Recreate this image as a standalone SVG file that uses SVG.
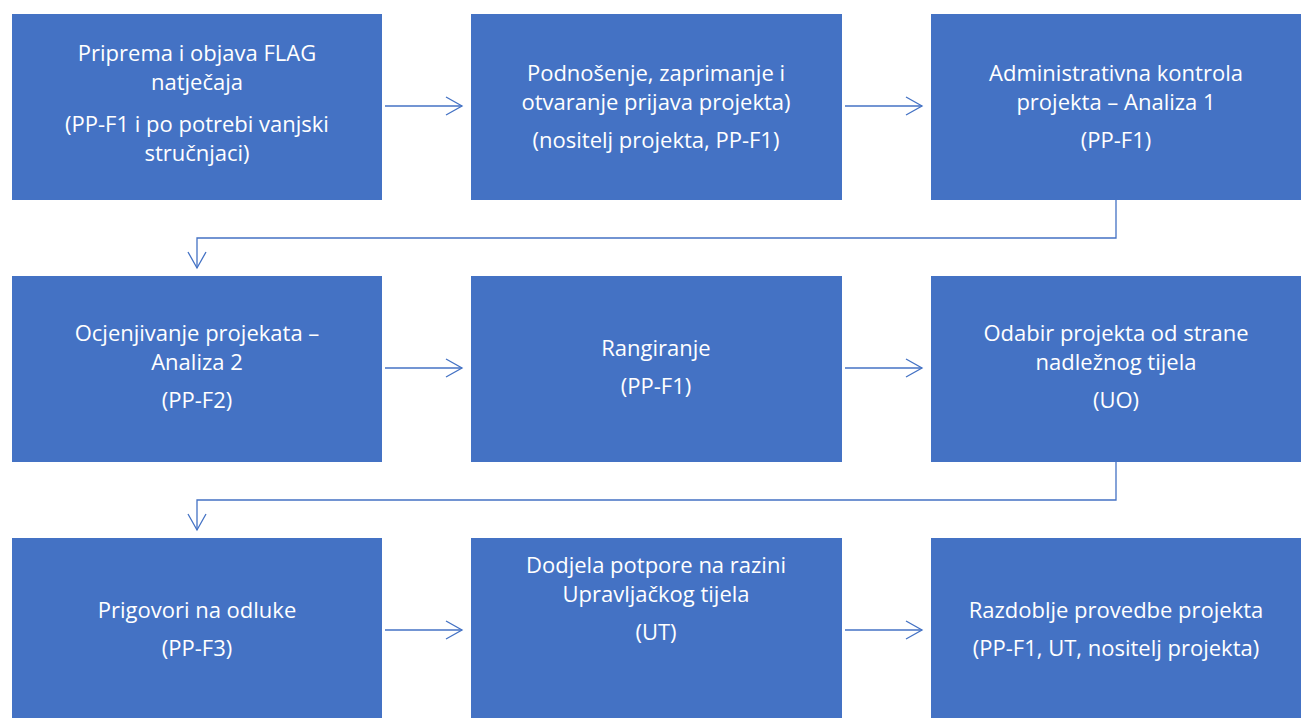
<svg xmlns="http://www.w3.org/2000/svg" width="1306" height="718" viewBox="0 0 1306 718">
<style>
.box{fill:#4472C4;}
.t{fill:#fff;font-family:"Open Sans","Liberation Sans",sans-serif;font-size:22px;text-anchor:middle;}
.c{fill:none;stroke:#4472C4;stroke-width:1.3;}
</style>
<defs>
<marker id="ah" markerWidth="20" markerHeight="20" refX="17" refY="10" orient="auto" markerUnits="userSpaceOnUse">
<path d="M1,1 L17,10 L1,19" fill="none" stroke="#4472C4" stroke-width="1.3"/>
</marker>
</defs>
<rect width="1306" height="718" fill="#fff"/>
<g id="connectors">
<path class="c" d="M385,106 H462" marker-end="url(#ah)"/>
<path class="c" d="M845,106 H922" marker-end="url(#ah)"/>
<path class="c" d="M1116,200 V238 H197 V268" marker-end="url(#ah)"/>
<path class="c" d="M385,368 H462" marker-end="url(#ah)"/>
<path class="c" d="M845,368 H922" marker-end="url(#ah)"/>
<path class="c" d="M1116,462 V500 H197 V530" marker-end="url(#ah)"/>
<path class="c" d="M385,630 H462" marker-end="url(#ah)"/>
<path class="c" d="M845,630 H922" marker-end="url(#ah)"/>
</g>
<g id="n1"><rect class="box" x="12" y="14" width="370" height="186"/>
<text class="t" x="197" y="61">Priprema i objava FLAG</text>
<text class="t" x="197" y="90">natječaja</text>
<text class="t" x="197" y="132">(PP-F1 i po potrebi vanjski</text>
<text class="t" x="197" y="161">stručnjaci)</text></g>
<g id="n2"><rect class="box" x="471" y="14" width="371" height="186"/>
<text class="t" x="656" y="81">Podnošenje, zaprimanje i</text>
<text class="t" x="656" y="110">otvaranje prijava projekta)</text>
<text class="t" x="656" y="148">(nositelj projekta, PP-F1)</text></g>
<g id="n3"><rect class="box" x="931" y="14" width="370" height="186"/>
<text class="t" x="1116" y="81">Administrativna kontrola</text>
<text class="t" x="1116" y="110">projekta – Analiza 1</text>
<text class="t" x="1116" y="148">(PP-F1)</text></g>
<g id="n4"><rect class="box" x="12" y="276" width="370" height="186"/>
<text class="t" x="197" y="341">Ocjenjivanje projekata –</text>
<text class="t" x="197" y="370">Analiza 2</text>
<text class="t" x="197" y="408">(PP-F2)</text></g>
<g id="n5"><rect class="box" x="471" y="276" width="371" height="186"/>
<text class="t" x="656" y="356">Rangiranje</text>
<text class="t" x="656" y="394">(PP-F1)</text></g>
<g id="n6"><rect class="box" x="931" y="276" width="370" height="186"/>
<text class="t" x="1116" y="341">Odabir projekta od strane</text>
<text class="t" x="1116" y="370">nadležnog tijela</text>
<text class="t" x="1116" y="408">(UO)</text></g>
<g id="n7"><rect class="box" x="12" y="538" width="370" height="186"/>
<text class="t" x="197" y="618">Prigovori na odluke</text>
<text class="t" x="197" y="656">(PP-F3)</text></g>
<g id="n8"><rect class="box" x="471" y="538" width="371" height="186"/>
<text class="t" x="656" y="573">Dodjela potpore na razini</text>
<text class="t" x="656" y="602">Upravljačkog tijela</text>
<text class="t" x="656" y="640">(UT)</text></g>
<g id="n9"><rect class="box" x="931" y="538" width="370" height="186"/>
<text class="t" x="1116" y="618">Razdoblje provedbe projekta</text>
<text class="t" x="1116" y="656">(PP-F1, UT, nositelj projekta)</text></g>
</svg>
